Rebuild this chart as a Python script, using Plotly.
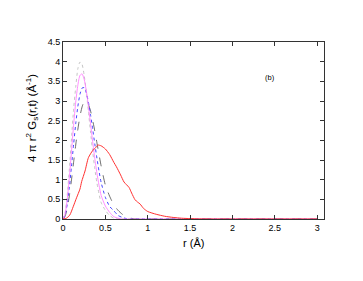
import plotly.graph_objects as go

# shared radial grid for the four narrow curves (angstrom)
r_grid = [0, 0.025, 0.05, 0.075, 0.1, 0.125, 0.15, 0.175, 0.2, 0.225, 0.25,
          0.275, 0.3, 0.325, 0.35, 0.375, 0.4, 0.425, 0.45, 0.5, 0.55, 0.6,
          0.65, 0.7, 0.75, 0.8, 0.85, 0.9, 3.0]

g_gray = [0, 0.16, 0.61, 1.27, 2.04, 2.79, 3.35, 3.82, 3.99, 3.93, 3.65,
          3.24, 2.73, 2.21, 1.72, 1.28, 0.92, 0.64, 0.42, 0.22, 0.09, 0.02,
          0, 0, 0, 0, 0, 0, 0]
g_magenta = [0, 0.13, 0.50, 1.06, 1.71, 2.38, 2.97, 3.40, 3.65, 3.69, 3.55,
             3.26, 2.87, 2.42, 1.97, 1.54, 1.17, 0.86, 0.60, 0.33, 0.17, 0.06,
             0.02, 0, 0, 0, 0, 0, 0]
g_blue = [0, 0.10, 0.38, 0.81, 1.34, 1.89, 2.42, 2.86, 3.17, 3.33, 3.34,
          3.21, 2.97, 2.65, 2.29, 1.91, 1.55, 1.22, 0.93, 0.55, 0.32, 0.21,
          0.09, 0.04, 0.01, 0, 0, 0, 0]
g_dash = [0, 0.07, 0.28, 0.59, 0.99, 1.44, 1.88, 2.28, 2.61, 2.85, 2.98,
          2.99, 2.91, 2.75, 2.51, 2.24, 1.94, 1.64, 1.35, 0.86, 0.58, 0.36,
          0.22, 0.12, 0.05, 0.02, 0, 0, 0]

r_red = [0, 0.04, 0.08, 0.12, 0.16, 0.2, 0.22, 0.26, 0.3, 0.35, 0.38, 0.41,
         0.45, 0.5, 0.55, 0.6, 0.63, 0.68, 0.72, 0.75, 0.78, 0.81, 0.85, 0.88,
         0.91, 0.95, 1.0, 1.1, 1.2, 1.3, 1.4, 1.5, 1.6, 1.8, 3.0]
g_red = [0, 0.02, 0.1, 0.31, 0.54, 0.76, 0.95, 1.22, 1.56, 1.74, 1.8, 1.88,
         1.86, 1.78, 1.64, 1.44, 1.33, 1.12, 0.94, 0.87, 0.8, 0.66, 0.49, 0.43,
         0.38, 0.27, 0.19, 0.12, 0.07, 0.04, 0.02, 0.01, 0.004, 0, 0]

x_ticks = [0, 0.5, 1, 1.5, 2, 2.5, 3]
y_ticks = [0, 0.5, 1, 1.5, 2, 2.5, 3, 3.5, 4, 4.5]

_FONT = "Liberation Sans, Arial, sans-serif"

fig = go.Figure()
series = [
    (r_grid, g_gray, "#bdbdbd", "dot", 0.9),
    (r_grid, g_dash, "#4a4a4a", "dash", 0.8),
    (r_grid, g_blue, "#3030ff", "dot", 0.9),
    (r_grid, g_magenta, "#ff80ff", "solid", 0.9),
    (r_red, g_red, "#ff3030", "solid", 1),
]
for xs, ys, col, dash, w in series:
    fig.add_trace(go.Scatter(
        x=xs, y=ys, mode="lines",
        line=dict(color=col, width=w, dash=dash, shape="spline", smoothing=0.6),
        showlegend=False,
    ))

axis_common = dict(
    showgrid=False, zeroline=False, showline=True, linecolor="#333333",
    linewidth=1, mirror="ticks", ticks="inside", ticklen=4,
    tickcolor="#333333", tickfont=dict(size=9, color="#000000", family=_FONT),
)
# page body adds 8px, so margins are shifted up-left by that amount
fig.update_layout(
    width=363, height=281,
    margin=dict(l=55, r=47, t=34, b=70),
    paper_bgcolor="white", plot_bgcolor="white",
    font=dict(family=_FONT, color="#000000"),
    xaxis=dict(range=[0, 3.08], tickvals=x_ticks,
               ticktext=[f"{v:g}" for v in x_ticks], **axis_common),
    yaxis=dict(range=[0, 4.5], tickvals=y_ticks,
               ticktext=[f"{v:g}" for v in y_ticks], **axis_common),
)
fig.add_annotation(
    text="4 π r<sup>2</sup> G<sub>s</sub>(r,t) (Å<sup>-1</sup>)",
    xref="paper", yref="paper", x=-0.119, y=0.57, textangle=-90,
    xanchor="center", yanchor="middle",
    showarrow=False, font=dict(size=11.5, family=_FONT, color="#000000"),
)
fig.add_annotation(
    text="r (Å)", xref="paper", yref="paper", x=0.5, y=-0.136,
    xanchor="center", yanchor="middle", showarrow=False,
    font=dict(size=11, family=_FONT, color="#000000"),
)
fig.add_annotation(
    text="(b)", x=2.44, y=3.59, showarrow=False,
    font=dict(size=7.5, family=_FONT, color="#000000"),
)

fig.write_html("out.html")
